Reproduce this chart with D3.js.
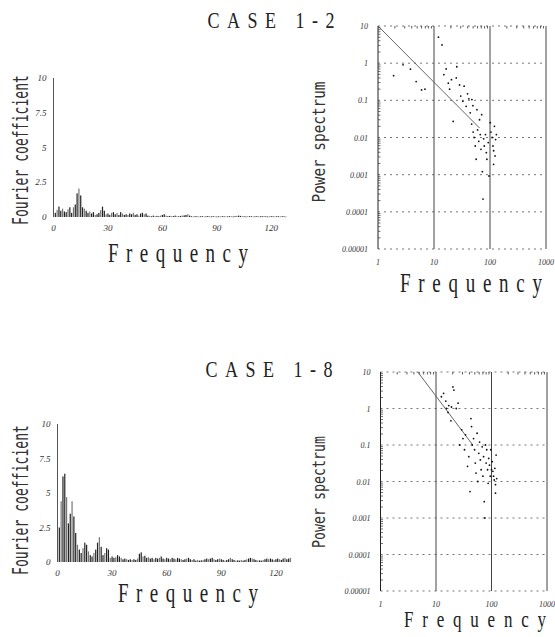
<!DOCTYPE html>
<html>
<head>
<meta charset="utf-8">
<script src="https://cdn.jsdelivr.net/npm/d3@7"></script>
<style>
body { margin: 0; background: #fff; }
</style>
</head>
<body>
<div id="chart"></div>
<script>
// Fourier coefficients, frequency 1..128 (case 1-2 and case 1-8)
var coefCase12 = [
  0.3, 0.5, 0.75, 0.45, 0.6, 0.4, 0.35, 0.55, 0.7, 0.3,
  0.7, 0.9, 1.7, 2.05, 1.55, 0.7, 0.6, 0.45, 0.3, 0.4,
  0.25, 0.35, 0.15, 0.2, 0.3, 0.5, 0.75, 0.45, 0.2, 0.25,
  0.15, 0.3, 0.35, 0.2, 0.3, 0.15, 0.35, 0.25, 0.15, 0.2,
  0.15, 0.25, 0.2, 0.3, 0.15, 0.2, 0.1, 0.25, 0.3, 0.2,
  0.25, 0.1, 0.08, 0.05, 0.1, 0.06, 0.08, 0.05, 0.1, 0.15,
  0.2, 0.1, 0.06, 0.08, 0.05, 0.07, 0.1, 0.06, 0.05, 0.08,
  0.1, 0.12, 0.15, 0.2, 0.1, 0.05, 0.04, 0.06, 0.05, 0.04,
  0.05, 0.06, 0.04, 0.05, 0.07, 0.05, 0.04, 0.06, 0.05, 0.04,
  0.05, 0.04, 0.06, 0.05, 0.04, 0.05, 0.06, 0.05, 0.04, 0.06,
  0.08, 0.1, 0.08, 0.06, 0.05, 0.04, 0.05, 0.06, 0.05, 0.04,
  0.05, 0.06, 0.04, 0.05, 0.06, 0.07, 0.05, 0.04, 0.05, 0.06,
  0.05, 0.04, 0.06, 0.05, 0.04, 0.06, 0.05, 0.04
];
var coefCase18 = [
  2.5, 4.4, 6.2, 6.4, 4.7, 2.8, 3.5, 4.4, 3.3, 2.1,
  1.25, 0.9, 0.65, 1.0, 1.4, 1.25, 0.77, 0.5, 0.4, 0.65,
  0.9, 1.4, 1.8, 1.1, 0.5, 0.65, 1.0, 0.9, 0.3, 0.4,
  0.3, 0.35, 0.5, 0.4, 0.3, 0.2, 0.25, 0.2, 0.15, 0.2,
  0.15, 0.2, 0.15, 0.25, 0.6, 0.7, 0.4, 0.45, 0.3, 0.35,
  0.25, 0.3, 0.2, 0.3, 0.25, 0.3, 0.4, 0.25, 0.2, 0.3,
  0.25, 0.2, 0.3, 0.25, 0.2, 0.3, 0.25, 0.2, 0.15, 0.2,
  0.25, 0.3, 0.2, 0.15, 0.2, 0.1, 0.15, 0.1, 0.12, 0.15,
  0.2, 0.25, 0.2, 0.25, 0.3, 0.2, 0.15, 0.2, 0.25, 0.2,
  0.15, 0.1, 0.15, 0.2, 0.3, 0.2, 0.15, 0.1, 0.12, 0.1,
  0.15, 0.1, 0.15, 0.2, 0.25, 0.3, 0.25, 0.2, 0.15, 0.1,
  0.12, 0.1, 0.15, 0.2, 0.25, 0.2, 0.25, 0.2, 0.15, 0.2,
  0.25, 0.2, 0.15, 0.25, 0.3, 0.2, 0.25, 0.3
];

// power spectrum points (frequency, power)
var specFreq12 = [1.9, 2.8, 3.8, 4.8, 6.0, 6.9, 12, 13.9, 15, 16.5, 18, 19, 20.5, 22, 25, 25.5,
  28.6, 30, 32.7, 34.5, 37.5, 39.7, 42, 44.4, 47.5, 49.6, 52, 54.5, 56.6, 58.4, 60, 63, 65, 67,
  69, 71, 73, 75, 77, 79, 83, 86, 88, 93, 96, 101, 104, 109, 113, 116, 120, 123, 126, 130, 116, 47, 50];
var specPow12 = [0.46, 0.9, 0.69, 0.32, 0.19, 0.2, 5.0, 3.1, 0.49, 0.7, 0.29, 0.2, 0.36, 0.027, 0.4, 0.8,
  0.26, 0.13, 0.094, 0.24, 0.069, 0.15, 0.11, 0.046, 0.105, 0.072, 0.01, 0.0059, 0.0026, 0.056, 0.016, 0.0079, 0.03, 0.012,
  0.0048, 0.041, 0.0012, 0.00022, 0.0092, 0.0059, 0.012, 0.0039, 0.0026, 0.0073, 0.00092, 0.025, 0.014, 0.01, 0.0059, 0.0044, 0.02, 0.0032, 0.0088, 0.012, 0.0019, 0.023, 0.014];

var specFreq18 = [12.5, 13.7, 15, 15.4, 16.5, 17, 18.6, 19, 20.2, 21, 23.2, 25, 26.7, 29, 30.6, 32.6,
  34, 37, 39, 41, 42.6, 43.7, 45, 47.5, 49.5, 51, 52.5, 55, 56.6, 59, 61, 63, 65, 68, 70, 72, 74,
  76, 78, 80, 82, 85, 87, 89, 92, 95, 97, 100, 103, 106, 109, 112, 115, 118, 121, 124, 118];
var specPow18 = [2.1, 2.6, 1.6, 1.0, 0.78, 1.2, 0.46, 1.1, 3.9, 3.2, 1.0, 1.4, 0.1, 0.26, 0.15, 0.074,
  0.19, 0.026, 0.048, 0.0053, 0.53, 0.32, 0.1, 0.15, 0.074, 0.032, 0.017, 0.21, 0.01, 0.059, 0.12, 0.039, 0.021, 0.089, 0.014, 0.048, 0.0028,
  0.001, 0.1, 0.032, 0.074, 0.021, 0.0089, 0.043, 0.028, 0.014, 0.074, 0.021, 0.035, 0.019, 0.014, 0.011, 0.023, 0.0082, 0.053, 0.012, 0.0048];

// fitted power-law lines (endpoints)
var fitFreq12 = [1, 65];
var fitPow12 = [10, 0.018];
var fitFreq18 = [4.7, 46];
var fitPow18 = [10, 0.1];

var barTicksX = [0, 30, 60, 90, 120];
var barTicksY = [0, 2.5, 5, 7.5, 10];
var logTicksX = [1, 10, 100, 1000];
var logTickLabelsX = ["1", "10", "100", "1000"];
var logTicksY = [10, 1, 0.1, 0.01, 0.001, 0.0001, 0.00001];
var logTickLabelsY = ["10", "1", "0.1", "0.01", "0.001", "0.0001", "0.00001"];

var svg = d3.select("#chart")
  .append("svg")
  .attr("width", 555)
  .attr("height", 637)
  .style("background", "#fff");

// tall narrow lettering like the original plotter font
function label(str, x, y, o) {
  var t = svg.append("text")
    .attr("transform", `translate(${x},${y}) rotate(${o.rot || 0}) scale(1,${o.sy || 1})`)
    .attr("text-anchor", "middle")
    .attr("font-family", o.font || "Liberation Serif")
    .attr("font-size", o.size)
    .attr("fill", o.fill || "#222")
    .attr("textLength", o.len)
    .attr("lengthAdjust", o.adjust || "spacing")
    .text(str);
  return t;
}

function barPanel(vals, p) {
  var x = d3.scaleLinear().domain([0, 128]).range([p.left, p.left + 128 * p.step]);
  var y = d3.scaleLinear().domain([0, 10]).range([p.base, p.top]);

  svg.append("line")
    .attr("x1", x(0)).attr("x2", x(0))
    .attr("y1", y(0)).attr("y2", y(10))
    .attr("stroke", "#555").attr("stroke-width", 1);

  svg.append("g").selectAll("rect")
    .data(vals)
    .enter()
    .append("rect")
    .attr("x", (d, i) => x(i + 1) - 0.6)
    .attr("y", d => y(d))
    .attr("width", 1.2)
    .attr("height", d => Math.max(0.8, y(0) - y(d)))
    .attr("fill", (d, i) => i % 3 == 1 ? "#777" : "#222");

  svg.append("g").selectAll("text")
    .data(barTicksY)
    .enter()
    .append("text")
    .attr("x", x(0) - 7)
    .attr("y", d => y(d) + 3)
    .attr("text-anchor", "end")
    .attr("font-family", "Liberation Serif")
    .attr("font-style", "italic")
    .attr("font-size", 9)
    .attr("fill", "#333")
    .text(d => d);

  svg.append("g").selectAll("text")
    .data(barTicksX)
    .enter()
    .append("text")
    .attr("x", d => x(d))
    .attr("y", y(0) + 14)
    .attr("text-anchor", "middle")
    .attr("font-family", "Liberation Serif")
    .attr("font-style", "italic")
    .attr("font-size", 9)
    .attr("fill", "#333")
    .text(d => d);

  label("Fourier coefficient", 28, p.ylabY, {rot: -90, font: "DejaVu Sans Mono", size: 19, sy: 1.1, len: 150, adjust: "spacingAndGlyphs", fill: "#333"});
  label("Frequency", p.xlabX, p.xlabY, {size: 19, sy: 1.4, len: 140});
}

function logPanel(fx, fy, lx, ly, p) {
  var x = d3.scaleLog().domain([1, 1000]).range([p.left, p.right]);
  var y = d3.scaleLog().domain([1e-5, 10]).range([p.bottom, p.top]);

  // dotted horizontal grid
  svg.append("g").selectAll("line")
    .data(logTicksY)
    .enter()
    .append("line")
    .attr("x1", x(1)).attr("x2", x(1000))
    .attr("y1", d => y(d)).attr("y2", d => y(d))
    .attr("stroke", "#666")
    .attr("stroke-width", 0.9)
    .attr("stroke-dasharray", "2,4");

  // solid decade lines
  svg.append("g").selectAll("line")
    .data(logTicksX)
    .enter()
    .append("line")
    .attr("x1", d => x(d)).attr("x2", d => x(d))
    .attr("y1", y(10)).attr("y2", y(1e-5))
    .attr("stroke", (d, i) => i == 0 ? "#222" : "#444")
    .attr("stroke-width", 1);

  // minor ticks on left axis and top edge
  var minorY = [], minorX = [];
  for (var k = -5; k < 1; k++) for (var m = 2; m < 10; m++) minorY.push(m * Math.pow(10, k));
  for (var k2 = 0; k2 < 3; k2++) for (var m2 = 2; m2 < 10; m2++) minorX.push(m2 * Math.pow(10, k2));
  svg.append("g").selectAll("line")
    .data(minorY)
    .enter()
    .append("line")
    .attr("x1", x(1)).attr("x2", x(1) + 2.5)
    .attr("y1", d => y(d)).attr("y2", d => y(d))
    .attr("stroke", "#333").attr("stroke-width", 0.7);
  svg.append("g").selectAll("line")
    .data(minorX)
    .enter()
    .append("line")
    .attr("x1", d => x(d)).attr("x2", d => x(d))
    .attr("y1", y(10)).attr("y2", y(10) + 2.5)
    .attr("stroke", "#333").attr("stroke-width", 0.8);

  // fitted line
  svg.append("line")
    .attr("x1", x(lx[0])).attr("y1", y(ly[0]))
    .attr("x2", x(lx[1])).attr("y2", y(ly[1]))
    .attr("stroke", "#555").attr("stroke-width", 0.9);

  // points
  svg.append("g").selectAll("circle")
    .data(fx)
    .enter()
    .append("circle")
    .attr("cx", d => x(d))
    .attr("cy", (d, i) => y(fy[i]))
    .attr("r", 0.9)
    .attr("fill", "#111");

  svg.append("g").selectAll("text")
    .data(logTicksY)
    .enter()
    .append("text")
    .attr("x", x(1) - 10)
    .attr("y", d => y(d) + 3)
    .attr("text-anchor", "end")
    .attr("font-family", "Liberation Serif")
    .attr("font-style", "italic")
    .attr("font-size", 8)
    .attr("fill", "#333")
    .text((d, i) => logTickLabelsY[i]);

  svg.append("g").selectAll("text")
    .data(logTicksX)
    .enter()
    .append("text")
    .attr("x", d => x(d))
    .attr("y", y(1e-5) + 16)
    .attr("text-anchor", "middle")
    .attr("font-family", "Liberation Serif")
    .attr("font-style", "italic")
    .attr("font-size", 8)
    .attr("fill", "#333")
    .text((d, i) => logTickLabelsX[i]);

  label("Power spectrum", 325, p.ylabY, {rot: -90, font: "DejaVu Sans Mono", size: 15, sy: 1.15, len: p.ylabLen, adjust: "spacingAndGlyphs", fill: "#333"});
  label("Frequency", p.xlabX, p.xlabY, {size: p.xlabSize, sy: 1.4, len: 142});
}

// titles
label("CASE 1-2", 271, 28, {size: 18, sy: 1.3, len: 127});
label("CASE 1-8", 269, 377, {size: 18, sy: 1.3, len: 127});

barPanel(coefCase12, {left: 53.5, step: 1.815, base: 217, top: 78, ylabY: 150, xlabX: 178, xlabY: 262});
barPanel(coefCase18, {left: 57.5, step: 1.82, base: 562, top: 424, ylabY: 500, xlabX: 188, xlabY: 602});

logPanel(specFreq12, specPow12, fitFreq12, fitPow12,
  {left: 378, right: 546, top: 26, bottom: 249, ylabY: 142, ylabLen: 121, xlabX: 471, xlabY: 292, xlabSize: 19});
logPanel(specFreq18, specPow18, fitFreq18, fitPow18,
  {left: 380.5, right: 547, top: 372, bottom: 591, ylabY: 492, ylabLen: 112, xlabX: 475, xlabY: 627, xlabSize: 17});
</script>
</body>
</html>
